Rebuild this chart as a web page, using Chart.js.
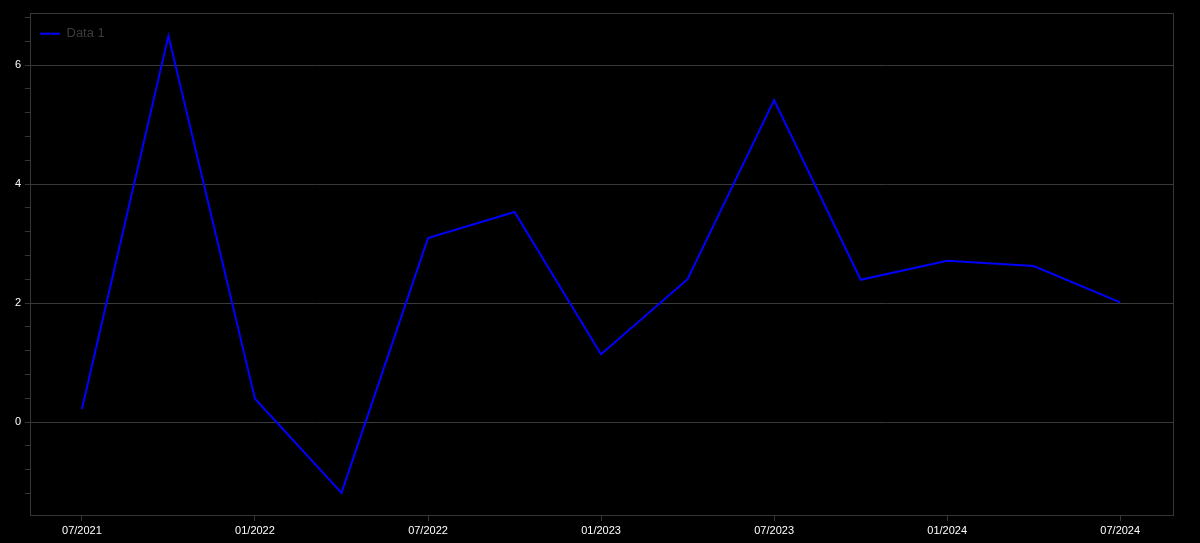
<!DOCTYPE html>
<html>
<head>
<meta charset="utf-8">
<script src="https://cdn.jsdelivr.net/npm/chart.js@4"></script>
<style>
  html, body { margin: 0; padding: 0; background: #000; }
  #wrap { width: 1200px; height: 543px; }
</style>
</head>
<body>
<div id="wrap"><canvas id="grafica"></canvas></div>
<script>
// Datos trimestrales
const trimestres = ['07/2021', '10/2021', '01/2022', '04/2022', '07/2022', '10/2022', '01/2023',
                    '04/2023', '07/2023', '10/2023', '01/2024', '04/2024', '07/2024'];
const valores = [0.22, 6.49, 0.39, -1.19, 3.09, 3.53, 1.14, 2.40, 5.41, 2.39, 2.71, 2.62, 2.01];
const nombreSerie = 'Data 1';

const colorGrid = '#3a3a3a';
const colorBorde = '#363636';

// marco alrededor del area del grafico
const marco = {
    id: 'marco',
    afterDraw(chart) {
        const { ctx, chartArea: a } = chart;
        ctx.save();
        ctx.strokeStyle = colorBorde;
        ctx.lineWidth = 1;
        ctx.strokeRect(a.left + 0.5, a.top + 0.5, a.right - a.left, a.bottom - a.top);
        ctx.restore();
    }
};

const esMayor = v => Math.abs(v / 2 - Math.round(v / 2)) < 1e-6;

new Chart(document.getElementById('grafica'), {
    type: 'line',
    data: {
        datasets: [{
            label: nombreSerie,
            data: valores.map((v, i) => ({ x: i, y: v })),
            borderColor: '#0000ff',
            backgroundColor: '#0000ff',
            borderWidth: 2,
            pointRadius: 0,
            tension: 0,
            fill: false
        }]
    },
    options: {
        responsive: true,
        maintainAspectRatio: false,
        animation: false,
        layout: { padding: { top: 13, right: 27, left: 0, bottom: 0 } },
        plugins: {
            tooltip: { enabled: false },
            legend: {
                position: 'chartArea',
                align: 'start',
                // titulo vacio solo para bajar la leyenda
                title: { display: true, text: '', font: { size: 1 }, padding: { top: 16, bottom: 0 } },
                labels: {
                    usePointStyle: true,
                    pointStyle: 'line',
                    pointStyleWidth: 20,
                    color: '#3c3c3c',
                    font: { family: 'Liberation Sans, Arial, sans-serif', size: 13 },
                    padding: 10
                }
            }
        },
        scales: {
            x: {
                type: 'linear',
                min: -0.6,
                max: 12.61,
                grid: {
                    drawOnChartArea: false,
                    drawTicks: true,
                    tickLength: 6,
                    tickColor: colorBorde
                },
                border: { color: colorBorde },
                ticks: {
                    stepSize: 2,
                    includeBounds: false,
                    color: '#fff',
                    padding: 3,
                    maxRotation: 0,
                    font: { family: 'Liberation Sans, Arial, sans-serif', size: 11 },
                    callback: v => trimestres[v] ?? ''
                },
                afterFit: s => { s.height = 28; }
            },
            y: {
                min: -1.563,
                max: 6.874,
                grid: {
                    color: ctx => esMayor(ctx.tick.value) ? colorGrid : 'rgba(0,0,0,0)',
                    tickColor: colorBorde,
                    tickLength: 5
                },
                border: { color: colorBorde },
                ticks: {
                    stepSize: 0.4,
                    includeBounds: false,
                    color: '#fff',
                    padding: 4,
                    font: { family: 'Liberation Sans, Arial, sans-serif', size: 11 },
                    callback: v => esMayor(v) ? String(Math.round(v)) : ''
                },
                afterFit: s => { s.width = 30; }
            }
        }
    },
    plugins: [marco]
});
</script>
</body>
</html>
